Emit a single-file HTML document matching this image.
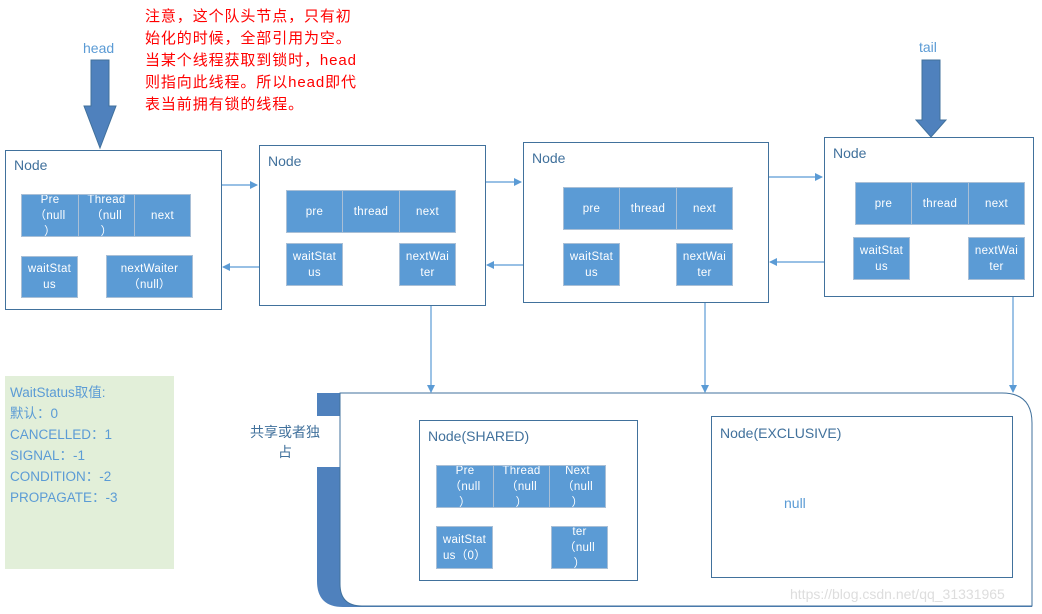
<!DOCTYPE html>
<html><head><meta charset="utf-8"><style>
body{margin:0;width:1042px;height:614px;background:#fff;position:relative;overflow:hidden;font-family:"Liberation Sans","Noto Sans CJK SC",sans-serif}
.a{position:absolute}
.box{position:absolute;border:1px solid #41719c;background:#fff;box-sizing:border-box}
.t{position:absolute;color:#41719c;font-size:14px}
.c{position:absolute;background:#5b9bd5;border:1px solid #a9bfd6;box-sizing:border-box;color:#fff;font-size:11.5px;text-align:center;line-height:16px;display:flex;align-items:center;justify-content:center;overflow:hidden;letter-spacing:.3px}
.red{position:absolute;left:145px;top:6px;color:#f00;font-size:15px;line-height:22px;letter-spacing:0.9px;white-space:nowrap}
.ws{position:absolute;left:5px;top:376px;width:169px;height:193px;background:#e2efd9;color:#5b9bd5;font-size:13.5px;line-height:21px;padding:6px 0 0 5px;box-sizing:border-box}
</style></head><body>
<svg class="a" style="left:0;top:0" width="1042" height="614">
<defs><marker id="m" markerWidth="8" markerHeight="8" refX="7" refY="4" orient="auto" markerUnits="userSpaceOnUse"><path d="M0,0 L8,4 L0,8z" fill="#5b9bd5"/></marker></defs>
<!-- head/tail arrows -->
<path d="M91,60 H109 V106 H116 L100,148 L84,106 H91z" fill="#4f81bd" stroke="#41719c"/>
<path d="M922,60 H940 V120 H946 L931,137 L916,120 H922z" fill="#4f81bd" stroke="#41719c"/>
<!-- container -->
<path d="M317,393 H1002 Q1032,393 1032,423 V607 H343 Q317,607 317,581z" fill="#4f81bd"/>
<rect x="300" y="416" width="40" height="51" fill="#fff"/>
<path d="M340,393 H1002 Q1032,393 1032,423 V606 H362 Q340,606 340,584z" fill="#fff" stroke="#41719c"/>
<g fill="none" stroke="#5b9bd5" stroke-width="1.2">
<path d="M191,215 H206 V185 H257" marker-end="url(#m)"/>
<path d="M286,212 H271 V267 H223" marker-end="url(#m)"/>
<path d="M455,212 H463 V182 H521" marker-end="url(#m)"/>
<path d="M563,208 H548 V265 H487" marker-end="url(#m)"/>
<path d="M732,208 H742 V177 H822" marker-end="url(#m)"/>
<path d="M855,203 H840 V262 H770" marker-end="url(#m)"/>
<path d="M431,285 V392" marker-end="url(#m)"/>
<path d="M705,285 V392" marker-end="url(#m)"/>
<path d="M1013,279 V392" marker-end="url(#m)"/>
</g>
</svg>
<div class="t" style="left:83px;top:40px;color:#5b9bd5;font-size:14px">head</div>
<div class="t" style="left:919px;top:39px;color:#5b9bd5;font-size:14px">tail</div>
<div class="red">注意，这个队头节点，只有初<br>始化的时候，全部引用为空。<br>当某个线程获取到锁时，head<br>则指向此线程。所以head即代<br>表当前拥有锁的线程。</div>

<div class="box" style="left:5px;top:150px;width:217px;height:160px"></div>
<div class="t" style="left:14px;top:157px">Node</div>
<div class="c" style="left:21px;top:194px;width:58px;height:43px">Pre<br>（null<br>）</div>
<div class="c" style="left:78px;top:194px;width:57px;height:43px">Thread<br>（null<br>）</div>
<div class="c" style="left:134px;top:194px;width:57px;height:43px">next</div>
<div class="c" style="left:21px;top:256px;width:57px;height:42px">waitStat<br>us</div>
<div class="c" style="left:106px;top:255px;width:87px;height:43px">nextWaiter<br>（null）</div>

<div class="box" style="left:259px;top:145px;width:227px;height:161px"></div>
<div class="t" style="left:268px;top:153px">Node</div>
<div class="c" style="left:286px;top:190px;width:57px;height:43px">pre</div>
<div class="c" style="left:342px;top:190px;width:58px;height:43px">thread</div>
<div class="c" style="left:399px;top:190px;width:57px;height:43px">next</div>
<div class="c" style="left:286px;top:243px;width:57px;height:43px">waitStat<br>us</div>
<div class="c" style="left:399px;top:243px;width:57px;height:43px">nextWai<br>ter</div>

<div class="box" style="left:523px;top:142px;width:246px;height:161px"></div>
<div class="t" style="left:532px;top:150px">Node</div>
<div class="c" style="left:563px;top:187px;width:57px;height:43px">pre</div>
<div class="c" style="left:619px;top:187px;width:58px;height:43px">thread</div>
<div class="c" style="left:676px;top:187px;width:57px;height:43px">next</div>
<div class="c" style="left:563px;top:243px;width:57px;height:43px">waitStat<br>us</div>
<div class="c" style="left:676px;top:243px;width:57px;height:43px">nextWai<br>ter</div>

<div class="box" style="left:824px;top:137px;width:210px;height:160px"></div>
<div class="t" style="left:833px;top:145px">Node</div>
<div class="c" style="left:855px;top:182px;width:57px;height:43px">pre</div>
<div class="c" style="left:911px;top:182px;width:58px;height:43px">thread</div>
<div class="c" style="left:968px;top:182px;width:57px;height:43px">next</div>
<div class="c" style="left:853px;top:237px;width:57px;height:43px">waitStat<br>us</div>
<div class="c" style="left:968px;top:237px;width:57px;height:43px">nextWai<br>ter</div>

<div class="ws">WaitStatus取值:<br>默认：0<br>CANCELLED：1<br>SIGNAL：-1<br>CONDITION：-2<br>PROPAGATE：-3</div>

<div class="t" style="left:250px;top:422px;width:70px;text-align:center;font-size:14px;line-height:20px">共享或者独占</div>

<div class="box" style="left:419px;top:420px;width:219px;height:161px"></div>
<div class="t" style="left:428px;top:428px">Node(SHARED)</div>
<div class="c" style="left:436px;top:465px;width:58px;height:43px">Pre<br>（null<br>）</div>
<div class="c" style="left:493px;top:465px;width:57px;height:43px">Thread<br>（null<br>）</div>
<div class="c" style="left:549px;top:465px;width:57px;height:43px">Next<br>（null<br>）</div>
<div class="c" style="left:436px;top:526px;width:57px;height:43px">waitStat<br>us（0）</div>
<div class="c" style="left:551px;top:526px;width:57px;height:43px">ter<br>（null<br>）</div>

<div class="box" style="left:711px;top:416px;width:302px;height:162px"></div>
<div class="t" style="left:720px;top:425px">Node(EXCLUSIVE)</div>
<div class="t" style="left:784px;top:495px;color:#5b9bd5">null</div>
<div class="a" style="left:790px;top:586px;color:#ddd;font-size:14px">https://blog.csdn.net/qq_31331965</div>
</body></html>
